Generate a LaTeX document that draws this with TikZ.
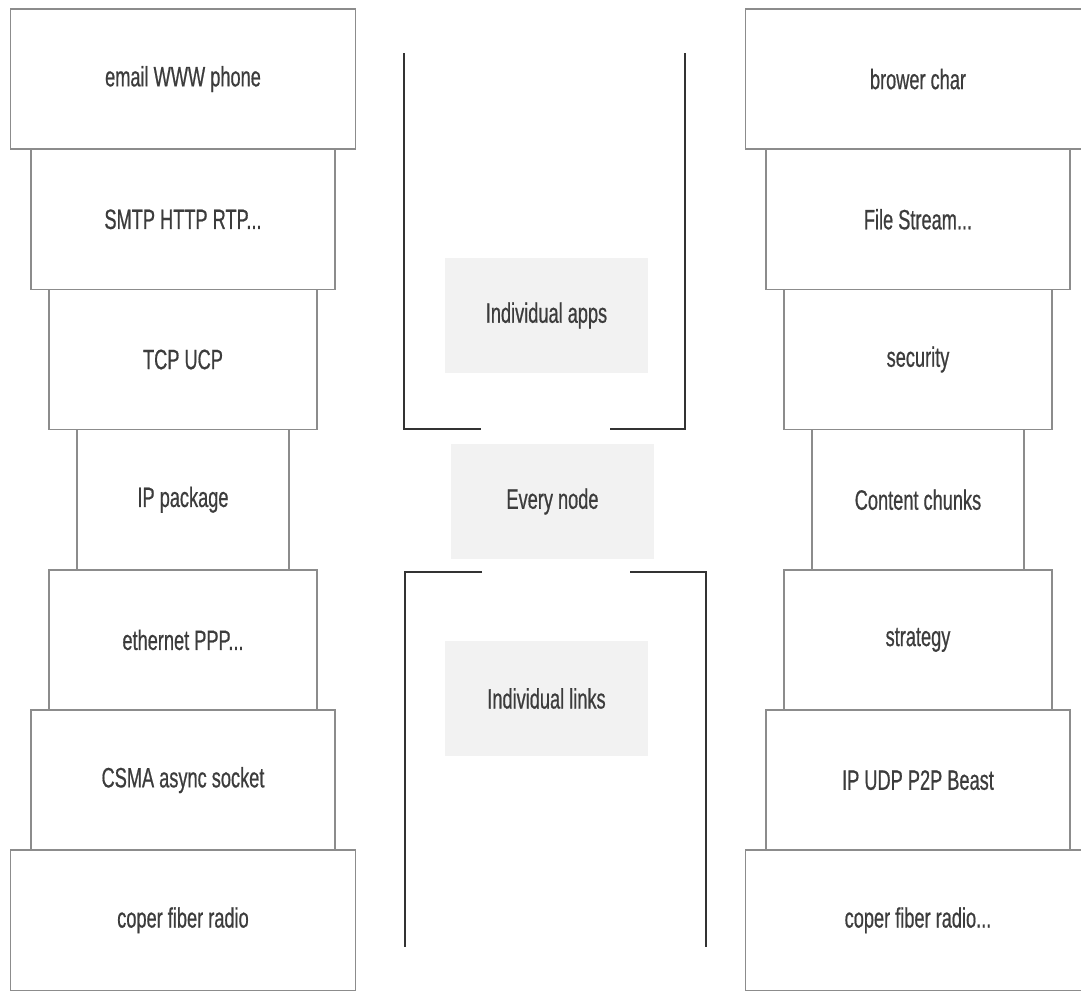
\documentclass[tikz,border=0pt]{standalone}
\usepackage{fontspec}
\setmainfont{Liberation Sans}[FakeStretch=0.65, FakeBold=0.6]
\usepackage{xcolor}
\usepackage{tikz}
\usetikzlibrary{positioning}
\definecolor{boxgray}{HTML}{8C8C8C}
\definecolor{textgray}{HTML}{3C3C3C}
\definecolor{notefill}{HTML}{F2F2F2}
\definecolor{linedark}{HTML}{333333}

\begin{document}
\begin{tikzpicture}[x=0.75pt, y=-0.75pt,
  stackbox/.style={draw=boxgray, line width=1.1pt, minimum width=#1, minimum height=105.15pt,
    inner sep=0pt, outer sep=0pt, text=textgray, font=\fontsize{21pt}{25pt}\selectfont},
  notebox/.style={fill=notefill, minimum width=152.25pt, minimum height=86.25pt,
    inner sep=0pt, text=textgray, font=\fontsize{21pt}{25pt}\selectfont},
  bracket/.style={draw=linedark, line width=1.5pt}]
  \clip (0,0) rectangle (1081,990);

  % left stack
  \node[stackbox=258.75pt] (email) at (183,79.1) {email WWW phone};
  \node[stackbox=228pt, below=0pt of email] (smtp) {SMTP HTTP RTP...};
  \node[stackbox=201pt, below=0pt of smtp] (tcp) {TCP UCP};
  \node[stackbox=159pt, below=0pt of tcp] (ip) {IP package};
  \node[stackbox=201pt, below=0pt of ip] (ether) {ethernet PPP...};
  \node[stackbox=228pt, below=0pt of ether] (csma) {CSMA async socket};
  \node[stackbox=258.75pt, below=0pt of csma] (coper) {coper fiber radio};

  % right stack
  \node[stackbox=258.75pt] (brower) at (918,79.1) {brower char};
  \node[stackbox=228pt, below=0pt of brower] (file) {File Stream...};
  \node[stackbox=201pt, below=0pt of file] (security) {security};
  \node[stackbox=159pt, below=0pt of security] (chunks) {Content chunks};
  \node[stackbox=201pt, below=0pt of chunks] (strategy) {strategy};
  \node[stackbox=228pt, below=0pt of strategy] (beast) {IP UDP P2P Beast};
  \node[stackbox=258.75pt, below=0pt of beast] (coperr) {coper fiber radio...};

  % middle
  \node[notebox] (apps) at (546.5,315.5) {Individual apps};
  \node[notebox] (every) at (552.5,501.5) {Every node};
  \node[notebox] (links) at (546.5,698.5) {Individual links};

  \draw[bracket] (404,53) -- (404,429) -- (481,429);
  \draw[bracket] (685,53) -- (685,429) -- (610,429);
  \draw[bracket] (482,572) -- (405,572) -- (405,947);
  \draw[bracket] (630,572) -- (706,572) -- (706,947);
\end{tikzpicture}
\end{document}
